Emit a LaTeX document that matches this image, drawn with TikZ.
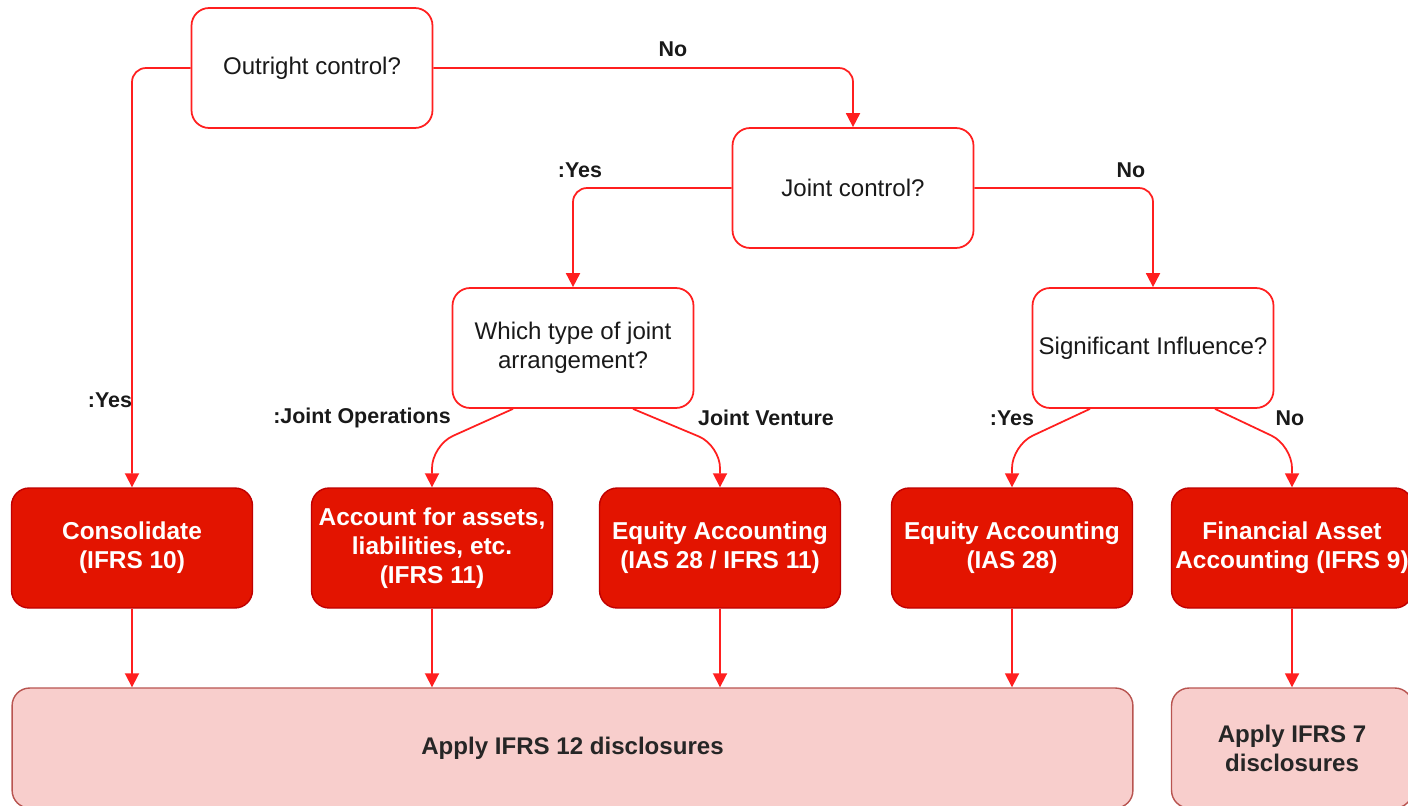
\documentclass[tikz,border=0pt]{standalone}
\usepackage{fontspec}
\setmainfont{Liberation Sans}
\usetikzlibrary{arrows.meta,calc}

\definecolor{linered}{HTML}{FF1F1F}
\definecolor{boxred}{HTML}{E31400}
\definecolor{boxredline}{HTML}{C00000}
\definecolor{pinkfill}{HTML}{F8CECC}
\definecolor{pinkline}{HTML}{B85450}

\tikzset{
  question/.style={draw=linered, line width=1pt, rounded corners=10pt, fill=white,
    minimum width=4.82cm, minimum height=2.4cm, inner sep=0pt, align=center,
    text=black!90, font=\fontsize{13.7}{16.5}\selectfont},
  result/.style={draw=boxredline, line width=0.8pt, rounded corners=10pt, fill=boxred,
    minimum width=4.82cm, minimum height=2.4cm, inner sep=0pt, align=center,
    text=white, font=\bfseries\fontsize{13.9}{16.5}\selectfont},
  disclose/.style={draw=pinkline, line width=0.8pt, rounded corners=10pt, fill=pinkfill,
    minimum height=2.4cm, inner sep=0pt, align=center,
    text=black!85, font=\bfseries\fontsize{13.7}{16.5}\selectfont},
  flow/.style={draw=linered, line width=1pt, rounded corners=8pt,
    -{Triangle[length=8pt,width=8pt]}},
  lbl/.style={text=black!90, font=\bfseries\fontsize{12.2}{15}\selectfont}
}

\begin{document}
\begin{tikzpicture}[x=0.02cm, y=-0.02cm]
        \useasboundingbox (0,0) rectangle (1408,805);
        \clip (0,0) rectangle (1408,805);

        % Questions
        \node[question] (outright) at (312,68) {Outright control?};
        \node[question] (joint) at (853,188) {Joint control?};
        \node[question] (which) at (573,348) {Which type of joint\\arrangement?};
        \node[question] (signif) at (1153,348) {Significant Influence?};

        % Accounting outcomes
        \node[result] (cons) at (132,548) {Consolidate\\(IFRS 10)};
        \node[result] (acct) at (432,548) {Account for assets,\\liabilities, etc.\\(IFRS 11)};
        \node[result] (eqjv) at (720,548) {Equity Accounting\\(IAS 28 / IFRS 11)};
        \node[result] (eqa) at (1012,548) {Equity Accounting\\(IAS 28)};
        \node[result] (faa) at (1292,548) {Financial Asset\\Accounting (IFRS 9)};

        % Disclosures
        \node[disclose, minimum width=22.42cm] (ifrs12) at (572.5,748) {Apply IFRS 12 disclosures};
        \node[disclose, minimum width=4.82cm] (ifrs7) at (1292,748) {Apply IFRS 7\\disclosures};

        % Outright control branches
        \draw[flow] (outright.west) -| (cons.north);
        \draw[flow] (outright.east) -| (joint.north);
        \node[lbl] (yes1) at (110,400) {:Yes};
        \node[lbl] (no1) at (673,49) {No};

        % Joint control branches
        \draw[flow] (joint.west) -| (which.north);
        \draw[flow] (joint.east) -| (signif.north);
        \node[lbl] (yes2) at (580,170) {:Yes};
        \node[lbl] (no2) at (1131,170) {No};

        % Type of arrangement
        \draw[flow, rounded corners=13pt] ($(which.south)+(-60,0)$) -- ($(acct.north)+(0,-42)$) -- (acct.north);
        \draw[flow, rounded corners=13pt] ($(which.south)+(60,0)$) -- ($(eqjv.north)+(0,-42)$) -- (eqjv.north);
        \node[lbl] (jo) at (362,418) {:Joint Operations};
        \node[lbl] (jv) at (766,418) {Joint Venture};

        % Significant influence branches
        \draw[flow, rounded corners=13pt] ($(signif.south)+(-63,0)$) -- ($(eqa.north)+(0,-42)$) -- (eqa.north);
        \draw[flow, rounded corners=13pt] ($(signif.south)+(62,0)$) -- ($(faa.north)+(0,-42)$) -- (faa.north);
        \node[lbl] (yes3) at (1012,418) {:Yes};
        \node[lbl] (no3) at (1290,418) {No};

        % Down to disclosures
        \draw[flow] (cons.south) -- (cons.south |- ifrs12.north);
        \draw[flow] (acct.south) -- (acct.south |- ifrs12.north);
        \draw[flow] (eqjv.south) -- (eqjv.south |- ifrs12.north);
        \draw[flow] (eqa.south) -- (eqa.south |- ifrs12.north);
        \draw[flow] (faa.south) -- (ifrs7.north);
\end{tikzpicture}
\end{document}
